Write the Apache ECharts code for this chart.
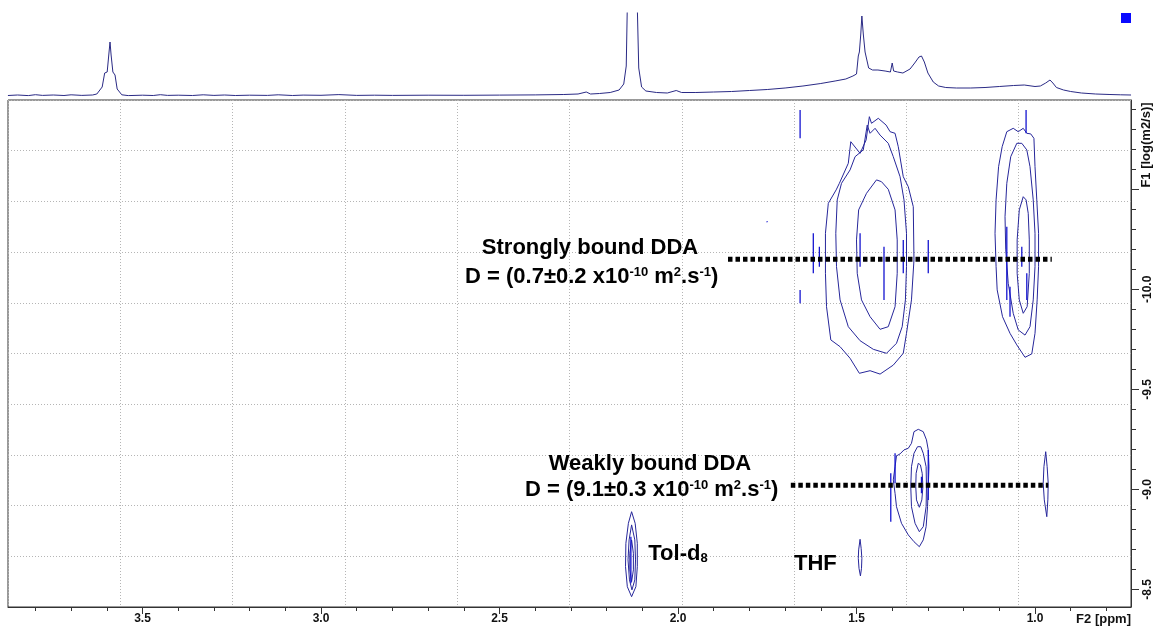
<!DOCTYPE html>
<html>
<head>
<meta charset="utf-8">
<script src="https://cdn.jsdelivr.net/npm/echarts@6/dist/echarts.min.js"></script>
<style>html,body{margin:0;padding:0;background:#fff}#main{width:1157px;height:632px}</style>
</head>
<body>
<div id="main"></div>
<script>
// axis ranges (ppm on F2, log D on F1)
var xMin = 0.7311, xMax = 3.8768;
var yMin = -10.9465, yMax = -8.4115;
var xLabels = [3.5, 3.0, 2.5, 2.0, 1.5, 1.0];
var yMajor = [-10.5, -10.0, -9.5, -9.0, -8.5];
var yLabels = [-10.0, -9.5, -9.0, -8.5];

// 1D projection on top [ppm, intensity]
var specData = [[3.877,0.5],[3.85,1.0],[3.82,0.4],[3.80,1.3],[3.78,0.6],[3.75,1.0],[3.72,0.5],[3.70,1.2],[3.67,0.6],[3.64,1.0],
  [3.628,2],[3.613,9],[3.606,23],[3.599,24],[3.594,43],[3.591,54],[3.588,41],[3.583,24],[3.577,21],[3.571,7],[3.558,1.2],
  [3.54,0.4],[3.50,0.8],[3.47,0.5],[3.45,1.3],[3.43,0.6],[3.40,0.8],[3.36,0.5],[3.33,1.2],[3.30,0.6],[3.27,1.0],[3.24,0.5],
  [3.20,0.8],[3.15,0.6],[3.12,1.2],[3.08,0.5],[3.05,0.9],[3.00,0.7],[2.95,1.4],[2.90,0.6],[2.85,0.8],[2.80,0.6],[2.70,0.8],
  [2.60,0.7],[2.50,0.9],[2.40,1.1],[2.32,1.5],[2.28,2],[2.257,4],[2.245,2],[2.22,2.5],[2.19,3.5],[2.165,6],[2.152,12],
  [2.145,30],[2.139,150],[2.130,170],[2.118,150],[2.110,28],[2.102,9],[2.09,5],[2.06,3.5],[2.03,3],[2.005,5.5],[1.99,3.5],
  [1.95,3.5],[1.90,4],[1.85,4.5],[1.80,5.5],[1.75,6.5],[1.70,8],[1.65,10],[1.60,12.5],[1.56,15],[1.53,17],[1.51,20],
  [1.500,22],[1.495,40],[1.492,44],[1.488,62],[1.485,80],[1.481,62],[1.476,44],[1.472,42],[1.466,28],[1.455,26],[1.44,26],
  [1.42,25],[1.405,24],[1.400,33],[1.396,25],[1.385,24],[1.37,23],[1.35,27],[1.337,33],[1.325,39],[1.318,40],[1.31,34],
  [1.30,23],[1.285,14],[1.27,10],[1.25,8.5],[1.22,8],[1.18,8],[1.14,8.5],[1.10,9.5],[1.06,10.5],[1.03,11],[1.00,9.5],
  [0.985,10],[0.97,13],[0.958,16],[0.95,13],[0.94,8.5],[0.92,6],[0.90,4.5],[0.87,3],[0.83,2],[0.79,1.5],[0.76,1.2],[0.731,1]];

// contour levels [ppm, logD]
var strongOuter = [[1.439,-10.855],[1.458,-10.830],[1.464,-10.863],[1.473,-10.747],[1.490,-10.680],[1.516,-10.738],[1.523,-10.630],
  [1.548,-10.530],[1.557,-10.497],[1.579,-10.430],[1.587,-10.280],[1.587,-10.080],[1.584,-9.913],[1.572,-9.747],[1.546,-9.713],
  [1.518,-9.655],[1.492,-9.580],[1.462,-9.593],[1.434,-9.576],[1.397,-9.621],[1.369,-9.680],[1.360,-9.780],[1.346,-9.947],
  [1.339,-10.147],[1.341,-10.413],[1.355,-10.513],[1.369,-10.563],[1.383,-10.713],[1.392,-10.780],[1.406,-10.788],[1.417,-10.821]];
var strongMid = [[1.462,-10.780],[1.470,-10.821],[1.481,-10.697],[1.504,-10.663],[1.518,-10.597],[1.542,-10.530],[1.554,-10.447],
  [1.558,-10.280],[1.556,-10.113],[1.546,-9.947],[1.523,-9.813],[1.490,-9.743],[1.453,-9.700],[1.416,-9.680],[1.388,-9.730],
  [1.372,-9.813],[1.363,-9.947],[1.360,-10.113],[1.360,-10.280],[1.367,-10.447],[1.378,-10.563],[1.397,-10.663],[1.411,-10.730],
  [1.434,-10.771],[1.448,-10.805]];
var strongInner = [[1.444,-10.547],[1.472,-10.480],[1.494,-10.397],[1.500,-10.247],[1.498,-10.080],[1.486,-9.947],[1.462,-9.863],
  [1.434,-9.800],[1.411,-9.813],[1.392,-9.913],[1.386,-10.080],[1.386,-10.247],[1.392,-10.397],[1.411,-10.500],[1.430,-10.538]];
var edgeOuter = [[1.061,-10.805],[1.079,-10.788],[1.092,-10.713],[1.102,-10.613],[1.109,-10.447],[1.112,-10.280],[1.109,-10.113],
  [1.106,-9.997],[1.091,-9.863],[1.070,-9.780],[1.051,-9.722],[1.028,-9.660],[1.009,-9.677],[1.000,-9.780],[0.994,-9.947],
  [0.990,-10.113],[0.990,-10.280],[0.995,-10.447],[1.000,-10.613],[1.003,-10.755],[1.012,-10.777],[1.023,-10.780],[1.033,-10.805],[1.047,-10.788]];
var edgeMid = [[1.051,-10.730],[1.068,-10.663],[1.079,-10.530],[1.084,-10.363],[1.082,-10.197],[1.075,-10.030],[1.061,-9.880],
  [1.047,-9.797],[1.028,-9.771],[1.014,-9.813],[1.005,-9.947],[1.000,-10.113],[1.000,-10.280],[1.005,-10.447],[1.014,-10.613],
  [1.023,-10.697],[1.037,-10.730]];
var edgeInner = [[1.033,-10.463],[1.044,-10.397],[1.050,-10.247],[1.050,-10.080],[1.044,-9.947],[1.033,-9.880],[1.022,-9.913],
  [1.016,-10.080],[1.016,-10.247],[1.019,-10.380],[1.025,-10.447]];
var weakOuter = [[1.327,-9.300],[1.339,-9.288],[1.346,-9.230],[1.355,-9.205],[1.367,-9.197],[1.378,-9.177],[1.388,-9.167],
  [1.392,-9.113],[1.397,-9.047],[1.392,-8.980],[1.388,-8.913],[1.374,-8.830],[1.355,-8.772],[1.339,-8.738],[1.324,-8.713],
  [1.313,-8.747],[1.305,-8.813],[1.301,-8.913],[1.299,-9.013],[1.297,-9.113],[1.299,-9.197],[1.304,-9.247],[1.313,-9.288]];
var weakMid = [[1.329,-9.213],[1.339,-9.180],[1.346,-9.113],[1.348,-9.013],[1.346,-8.913],[1.336,-8.830],[1.324,-8.788],
  [1.313,-8.813],[1.305,-8.913],[1.304,-9.013],[1.305,-9.113],[1.313,-9.180],[1.320,-9.213]];
var weakInner = [[1.327,-9.130],[1.333,-9.080],[1.334,-9.013],[1.332,-8.947],[1.324,-8.910],[1.317,-8.947],[1.314,-9.013],
  [1.316,-9.080],[1.321,-9.122]];
var smallPeak = [[0.970,-9.188],[0.975,-9.113],[0.977,-9.030],[0.974,-8.947],[0.967,-8.863],[0.964,-8.947],[0.963,-9.030],[0.966,-9.113]];
var tolOuter = [[2.130,-8.888],[2.139,-8.830],[2.146,-8.730],[2.147,-8.613],[2.142,-8.513],[2.130,-8.463],[2.118,-8.513],
  [2.114,-8.613],[2.114,-8.730],[2.120,-8.830]];
var tolMid = [[2.130,-8.822],[2.137,-8.747],[2.140,-8.647],[2.136,-8.547],[2.129,-8.497],[2.121,-8.547],[2.119,-8.647],[2.121,-8.747]];
var tolInner = [[2.130,-8.747],[2.135,-8.680],[2.135,-8.597],[2.130,-8.538],[2.125,-8.597],[2.125,-8.680]];
var thfPeak = [[1.490,-8.750],[1.494,-8.697],[1.495,-8.655],[1.493,-8.605],[1.489,-8.567],[1.486,-8.605],[1.485,-8.655],[1.487,-8.705]];

// noise streaks
var spikes = [
  [[1.658,-10.897],[1.658,-10.755]], [[1.658,-9.997],[1.658,-9.930]], [[1.423,-10.213],[1.423,-9.947]],
  [[1.490,-10.280],[1.490,-10.113]], [[1.621,-10.280],[1.621,-10.080]], [[1.604,-10.213],[1.604,-10.113]],
  [[1.299,-10.247],[1.299,-10.080]], [[1.369,-10.247],[1.369,-10.080]], [[1.025,-10.897],[1.025,-10.780]],
  [[1.079,-10.313],[1.079,-9.947]], [[1.070,-10.013],[1.070,-9.863]], [[1.023,-10.080],[1.023,-9.947]],
  [[1.037,-10.213],[1.037,-10.113]], [[1.392,-9.180],[1.392,-9.030]], [[1.404,-9.080],[1.404,-8.838]],
  [[1.299,-9.197],[1.299,-8.947]], [[1.318,-9.063],[1.318,-8.980]], [[2.132,-8.763],[2.132,-8.530]],
  [[1.751,-10.340],[1.750,-10.335]]
];

// diffusion lines
var strongD = -10.15, strongRange = [1.860, 0.953];
var weakD = -9.02, weakRange = [1.684, 0.963];

// annotations
var noteText = ['Strongly bound DDA', 'D = (0.7±0.2 x10{s|-10} m{s|2}.s{s|-1})',
  'Weakly bound DDA', 'D = (9.1±0.3 x10{s|-10} m{s|2}.s{s|-1})', 'Tol-d{b|8}', 'THF'];
var notePos = [[2.2465,-10.205],[2.2418,-10.0625],[2.0785,-9.1265],[2.0737,-8.9965],[2.0832,-8.678],[1.6751,-8.626]];
var noteAlign = ['center','center','center','center','left','left'];

var FONT = 'Liberation Sans, Arial, sans-serif';

function joinPaths(paths, close) {
  var out = [];
  paths.forEach(function (p) {
    p.forEach(function (pt) { out.push(pt); });
    if (close) out.push(p[0]);
    out.push(['-', '-']);
  });
  return out;
}

var minorX = [], minorY = [];
for (var i = 8; i <= 38; i++) minorX.push(i / 10);
for (var j = -109; j <= -85; j++) minorY.push(j / 10);

var contours = [strongOuter, strongMid, strongInner, edgeOuter, edgeMid, edgeInner,
  weakOuter, weakMid, weakInner, smallPeak, tolOuter, tolMid, tolInner, thfPeak];

var dom = document.getElementById('main');
var myChart = echarts.init(dom, null, {renderer: 'canvas'});
var option = {
  animation: false,
  textStyle: {fontFamily: FONT},
  grid: [
    {left: 8, right: 26, top: 13, height: 83, outerBoundsMode: 'none'},
    {left: 8, right: 26, top: 100, bottom: 25, show: true, borderColor: '#333', borderWidth: 1, outerBoundsMode: 'none'}
  ],
  xAxis: [
    {gridIndex: 0, type: 'value', inverse: true, min: xMin, max: xMax, show: false},
    {gridIndex: 1, type: 'value', inverse: true, min: xMin, max: xMax, position: 'bottom',
      axisLine: {show: true, onZero: false, lineStyle: {color: '#333'}},
      axisTick: {show: true, customValues: minorX, length: 4, lineStyle: {color: '#333'}},
      axisLabel: {show: false}, splitLine: {show: false}},
    {gridIndex: 1, type: 'value', inverse: true, min: xMin, max: xMax, position: 'bottom',
      axisLine: {show: false, onZero: false},
      axisTick: {show: true, customValues: xLabels, length: 7, lineStyle: {color: '#333'}},
      axisLabel: {show: true, customValues: xLabels, margin: 6, fontSize: 12, fontWeight: 'bold', color: '#111',
        fontFamily: FONT, formatter: function (v) { return v.toFixed(1); }},
      splitLine: {show: false}},
    {gridIndex: 1, type: 'value', min: 0, max: 10, interval: 1, axisLine: {show: false}, axisTick: {show: false},
      axisLabel: {show: false}, splitLine: {show: true, lineStyle: {color: '#b5b5b5', type: [1, 2], width: 1}}}
  ],
  yAxis: [
    {gridIndex: 0, type: 'value', min: 0, max: 83, show: false},
    {gridIndex: 1, type: 'value', inverse: true, min: yMin, max: yMax, position: 'right',
      axisLine: {show: true, onZero: false, lineStyle: {color: '#333'}},
      axisTick: {show: true, customValues: minorY, length: 5, lineStyle: {color: '#333'}},
      axisLabel: {show: false}, splitLine: {show: false}},
    {gridIndex: 1, type: 'value', inverse: true, min: yMin, max: yMax, position: 'right',
      axisLine: {show: false, onZero: false},
      axisTick: {show: true, customValues: yMajor, length: 8, lineStyle: {color: '#333'}},
      axisLabel: {show: true, customValues: yLabels, rotate: 90, margin: 11, fontSize: 12, fontWeight: 'bold', color: '#111',
        fontFamily: FONT, formatter: function (v) { return v.toFixed(1); }},
      splitLine: {show: false}},
    {gridIndex: 1, type: 'value', min: 0, max: 10, interval: 1, axisLine: {show: false}, axisTick: {show: false},
      axisLabel: {show: false}, splitLine: {show: true, lineStyle: {color: '#b5b5b5', type: [1, 2], width: 1}}}
  ],
  series: [
    {type: 'line', xAxisIndex: 0, yAxisIndex: 0, data: specData, symbol: 'none', silent: true,
      lineStyle: {color: '#2a2a85', width: 1}},
    {type: 'line', xAxisIndex: 1, yAxisIndex: 1, data: joinPaths(contours, true), symbol: 'none', silent: true,
      connectNulls: false, lineStyle: {color: '#26269a', width: 1}},
    {type: 'line', xAxisIndex: 1, yAxisIndex: 1, data: joinPaths(spikes, false), symbol: 'none', silent: true,
      connectNulls: false, lineStyle: {color: '#1414d0', width: 1.3}},
    {type: 'line', xAxisIndex: 1, yAxisIndex: 1, symbol: 'none', silent: true,
      data: [[strongRange[0], strongD], [strongRange[1], strongD], ['-', '-'], [weakRange[0], weakD], [weakRange[1], weakD]],
      connectNulls: false, lineStyle: {color: '#000', width: 5, type: [4.5, 3], cap: 'butt'}},
    {type: 'scatter', xAxisIndex: 1, yAxisIndex: 1, symbolSize: 1, silent: true,
      itemStyle: {color: 'transparent', opacity: 1},
      data: notePos.map(function (p, k) {
        return {value: p, label: {formatter: noteText[k], align: noteAlign[k], color: '#000'}};
      }),
      label: {show: true, position: 'inside', color: '#000', opacity: 1, fontSize: 22, fontWeight: 'bold', fontFamily: FONT,
        verticalAlign: 'middle', textBorderWidth: 0,
        rich: {
          s: {fontSize: 13, fontWeight: 'bold', fontFamily: FONT, color: '#000', verticalAlign: 'top'},
          b: {fontSize: 13, fontWeight: 'bold', fontFamily: FONT, color: '#000', verticalAlign: 'bottom'}
        }}}
  ],
  graphic: [
    {type: 'rect', shape: {x: 1121, y: 13, width: 10, height: 10}, style: {fill: '#0a0aff'}},
    {type: 'text', x: 1131, y: 619, style: {text: 'F2 [ppm]', fill: '#111', fontSize: 13, fontWeight: 'bold',
      fontFamily: FONT, align: 'right', verticalAlign: 'middle'}},
    {type: 'text', x: 1146, y: 145, rotation: Math.PI / 2, style: {text: 'F1 [log(m2/s)]', fill: '#111', fontSize: 13,
      fontWeight: 'bold', fontFamily: FONT, align: 'center', verticalAlign: 'middle'}}
  ]
};
if (option && typeof option === 'object') {
  myChart.setOption(option, true);
}
</script>
</body>
</html>
